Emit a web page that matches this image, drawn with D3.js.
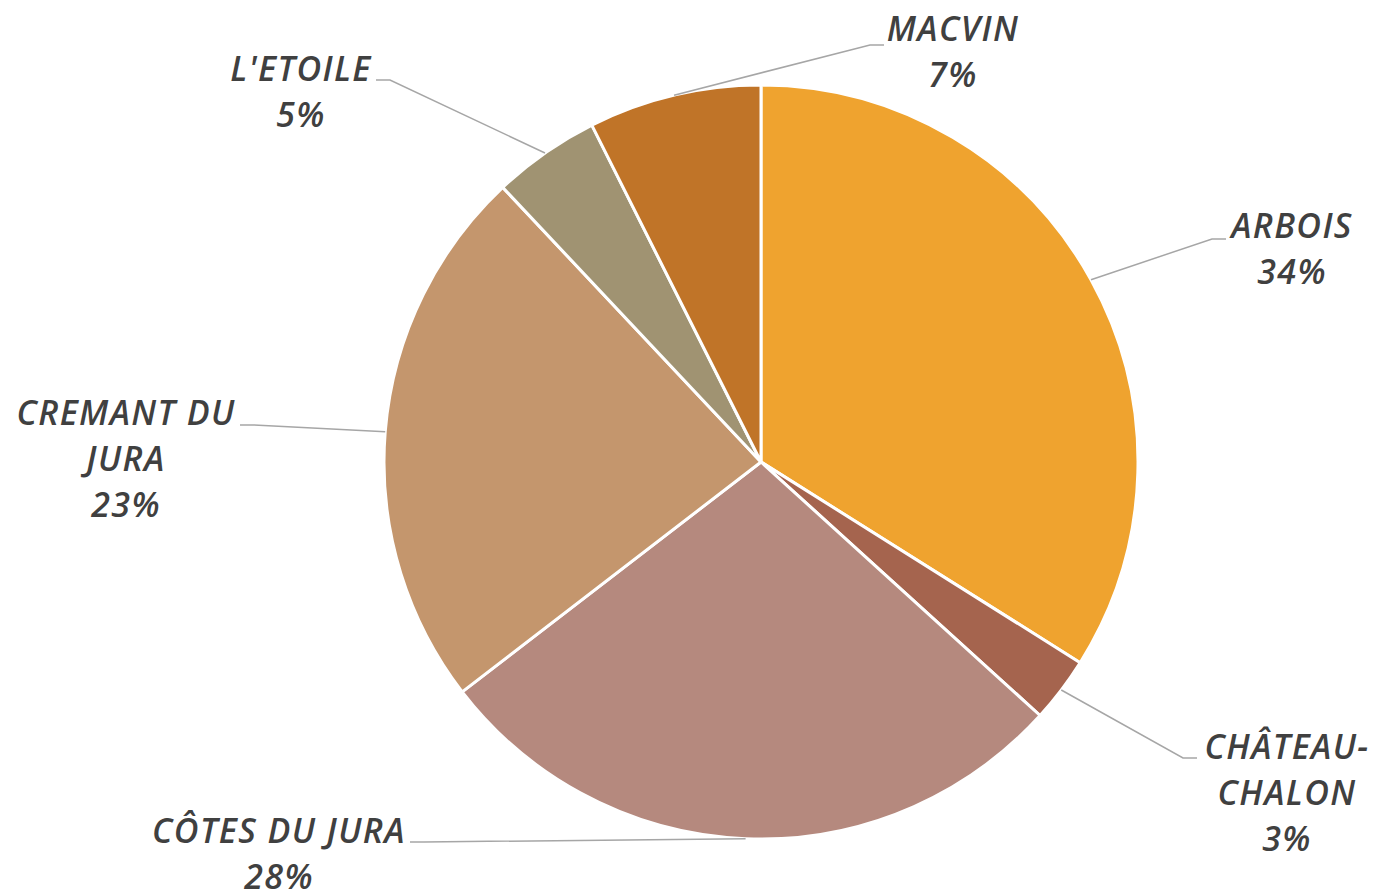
<!doctype html>
<html lang="en">
<head>
<meta charset="utf-8" />
<title>Jura</title>
<script src="https://d3js.org/d3.v7.min.js"></script>
<style>
  body { margin: 0; background: #fff; }
  text { font-family: "Open Sans", Lato, sans-serif; font-style: italic; font-weight: 600; fill: #404040; }
</style>
</head>
<body>
<div id="chart"></div>
<script>
  // appellations, clockwise from 12 o'clock
  const categories = ["ARBOIS", "CHÂTEAU-CHALON", "CÔTES DU JURA", "CREMANT DU JURA", "L'ETOILE", "MACVIN"];
  const shares = [33.9, 2.8, 27.8, 23.4, 4.6, 7.4];
  const colors = ["#EFA32F", "#A5644E", "#B5897E", "#C4966D", "#A09372", "#C07428"];
  // how each label wraps
  const labelLines = [["ARBOIS"], ["CHÂTEAU-", "CHALON"], ["CÔTES DU JURA"], ["CREMANT DU", "JURA"], ["L'ETOILE"], ["MACVIN"]];

  // label block placement: centre x, first baseline y, elbow end x, elbow y
  const labelPos = [
    { x: 1292, y: 238, ex: 1226, ey: 239 },
    { x: 1287, y: 759, ex: 1197, ey: 758 },
    { x: 279, y: 843, ex: 410, ey: 842 },
    { x: 126, y: 425, ex: 240, ey: 425 },
    { x: 301, y: 81, ex: 376, ey: 80 },
    { x: 953, y: 41, ex: 884, ey: 45 }
  ];

  const W = 1378, H = 891;
  const cx = 761, cy = 462, r = 377;
  const lineH = 46;

  const svg = d3.select("#chart").append("svg")
    .attr("width", W).attr("height", H);

  const pie = d3.pie().sort(null).value(d => d);
  const arcs = pie(shares);
  const arc = d3.arc().innerRadius(0).outerRadius(r);

  const g = svg.append("g").attr("transform", `translate(${cx},${cy})`);

  g.selectAll("path")
    .data(arcs)
    .enter().append("path")
    .attr("d", arc)
    .attr("fill", (d, i) => colors[i])
    .attr("stroke", "#fff")
    .attr("stroke-width", 3)
    .attr("stroke-linejoin", "round");

  // leader lines
  const total = d3.sum(shares);
  arcs.forEach((d, i) => {
    const a = (d.startAngle + d.endAngle) / 2;
    const sx = cx + r * Math.sin(a), sy = cy - r * Math.cos(a);
    const p = labelPos[i];
    const dir = p.ex > sx ? -1 : 1;
    const kx = p.ex + dir * 14;
    svg.append("polyline")
      .attr("points", `${sx},${sy} ${kx},${p.ey} ${p.ex},${p.ey}`)
      .attr("fill", "none")
      .attr("stroke", "#A6A6A6")
      .attr("stroke-width", 1.5);
  });

  // labels
  arcs.forEach((d, i) => {
    const p = labelPos[i];
    const pct = Math.round(shares[i] / total * 100) + "%";
    const lines = labelLines[i].concat([pct]);
    const t = svg.append("text")
      .attr("text-anchor", "middle")
      .attr("font-size", 34)
      .attr("letter-spacing", 1.4);
    lines.forEach((s, k) => {
      t.append("tspan").attr("x", p.x).attr("y", p.y + k * lineH).text(s);
    });
  });
</script>
</body>
</html>
